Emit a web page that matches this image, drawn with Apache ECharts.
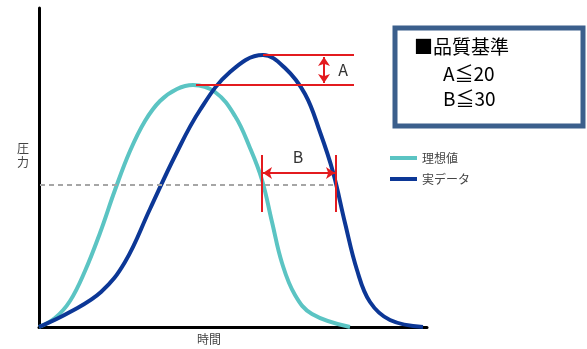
<!DOCTYPE html>
<html>
<head>
<meta charset="utf-8">
<script src="https://cdn.jsdelivr.net/npm/echarts@6/dist/echarts.min.js"></script>
<style>
html,body{margin:0;padding:0;background:#fff;}
#main{width:587px;height:349px;}
</style>
</head>
<body>
<div id="main"></div>
<script>
// 理想値 / 実データ の曲線（時間, 圧力）
var idealTime  = [0, 16, 31, 46, 61, 76, 91, 106, 121, 138, 154, 176, 196, 211, 223, 233, 243, 256, 273, 311];
var idealPress = [0, 9, 26, 56, 94, 137, 176, 206, 226, 238, 242, 235, 211, 179, 147, 105, 64, 32, 13, 0];
var actualTime  = [0, 31, 62, 86, 111, 136, 161, 191, 224, 246, 266, 281, 294, 306, 318, 331, 351, 384];
var actualPress = [0, 15, 35, 65, 118, 171, 217, 255, 272, 259, 233, 195, 155, 104, 57, 25, 7, 0];

// 品質基準の目安
var peakIdeal = [157, 242];
var peakActual = [224, 272];
var lineEnd = 315;
var arrowA = 285;
var levelB = 142;
var bLeft = 223, bRight = 297;

var seriesNames = ['理想値', '実データ'];
var criteria = ['■品質基準', 'A≦20', 'B≦30'];

function zip(a, b) {
	var out = [];
	for (var i = 0; i < a.length; i++) out.push([a[i], b[i]]);
	return out;
}

var chart = echarts.init(document.getElementById('main'));
var red = '#e31b1f';
var font = '"Noto Sans CJK JP", "Noto Sans", sans-serif';

function seg(p1, p2, opt) {
	var a = {coord: p1, symbol: opt.s1 || 'none', symbolSize: opt.size || 0};
	var b = {coord: p2, symbol: opt.s2 || 'none', symbolSize: opt.size || 0};
	a.lineStyle = opt.style;
	return [a, b];
}
var redStyle = {color: red, width: 2, type: 'solid'};

option = {
	animation: false,
	grid: {left: 39, top: 8, width: 388, height: 319},
	xAxis: {
		type: 'value', min: 0, max: 388,
		axisLine: {show: true, onZero: false, lineStyle: {color: '#000', width: 3}},
		axisTick: {show: false}, axisLabel: {show: false}, splitLine: {show: false}
	},
	yAxis: {
		type: 'value', min: 0, max: 319,
		axisLine: {show: true, onZero: false, lineStyle: {color: '#000', width: 3}},
		axisTick: {show: false}, axisLabel: {show: false}, splitLine: {show: false}
	},
	legend: {
		orient: 'vertical', left: 385, top: 147,
		icon: 'rect', itemWidth: 27, itemHeight: 4, itemGap: 9,
		textStyle: {color: '#444', fontSize: 12, fontFamily: font},
		data: seriesNames
	},
	series: [
		{
			name: seriesNames[0], type: 'line', smooth: 0.4, symbol: 'none',
			lineStyle: {color: '#5bc4c3', width: 4}, itemStyle: {color: '#5bc4c3'},
			data: zip(idealTime, idealPress),
			markLine: {
				silent: true, label: {show: false},
				data: [
					seg([1, levelB], [bRight, levelB], {style: {color: '#a6a6a6', width: 2, type: [5, 4]}})
				]
			}
		},
		{
			name: seriesNames[1], type: 'line', smooth: 0.4, symbol: 'none',
			lineStyle: {color: '#0c3796', width: 4}, itemStyle: {color: '#0c3796'},
			data: zip(actualTime, actualPress),
			markLine: {
				silent: true, label: {show: false},
				data: [
					seg(peakActual, [lineEnd, peakActual[1]], {style: redStyle}),
					seg(peakIdeal, [lineEnd, peakIdeal[1]], {style: redStyle}),
					seg([arrowA, peakActual[1] - 2], [arrowA, peakIdeal[1] + 2], {style: redStyle, s1: 'arrow', s2: 'arrow', size: [9, 9]}),
					seg([bLeft, 172], [bLeft, 115], {style: redStyle}),
					seg([bRight, 172], [bRight, 115], {style: redStyle}),
					seg([bLeft + 1, 154], [bRight - 1, 154], {style: redStyle, s1: 'arrow', s2: 'arrow', size: [9, 9]})
				]
			},
			markPoint: {
				silent: true, symbol: 'circle', symbolSize: 0,
				label: {show: true, color: '#333', fontSize: 16, fontFamily: font, formatter: '{b}'},
				data: [
					{name: 'A', coord: [304, 257]},
					{name: 'B', coord: [259, 170]}
				]
			}
		}
	],
	graphic: [
		{type: 'text', left: 17, top: 141, style: {text: '圧\n力', fill: '#444', font: '12px ' + font, lineHeight: 14}},
		{type: 'text', left: 197, top: 333, style: {text: '時間', fill: '#444', font: '12px ' + font}},
		{type: 'rect', shape: {x: 395, y: 28, width: 188, height: 98}, style: {fill: '#fff', stroke: '#3b5f8c', lineWidth: 5}},
		{type: 'text', left: 414, top: 37, style: {text: criteria[0], fill: '#000', font: '19px ' + font}},
		{type: 'text', left: 443, top: 64, style: {text: criteria[1], fill: '#000', font: '19px ' + font}},
		{type: 'text', left: 443, top: 89, style: {text: criteria[2], fill: '#000', font: '19px ' + font}}
	]
};
chart.setOption(option);
</script>
</body>
</html>
